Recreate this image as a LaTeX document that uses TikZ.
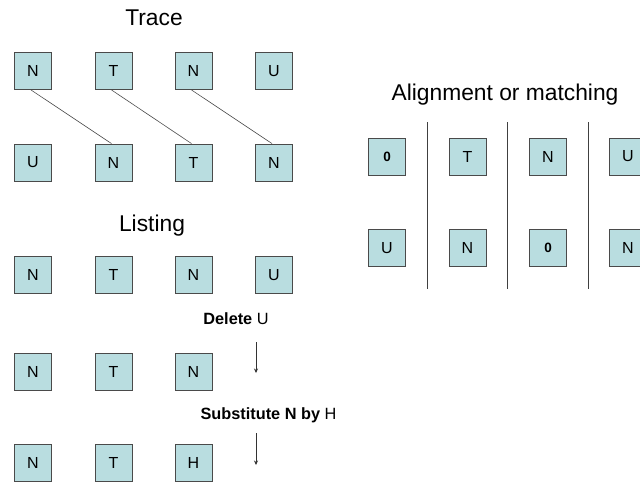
\documentclass[tikz,border=0pt]{standalone}
\usepackage{fontspec}
\setmainfont{Liberation Sans}
\usetikzlibrary{arrows.meta}
\definecolor{boxfill}{HTML}{B9DDE0}
\definecolor{boxline}{HTML}{4A4A4A}
\begin{document}
\begin{tikzpicture}[x=1pt,y=-1pt,
  cell/.style={draw=boxline,line width=0.9pt,fill=boxfill,minimum width=37pt,minimum height=37pt,inner sep=0pt,font=\fontsize{16}{16}\selectfont},
  zero/.style={cell,font=\fontsize{13.5}{13.5}\selectfont\bfseries},
  title/.style={font=\fontsize{22.8}{23}\selectfont,inner sep=0pt},
  oplabel/.style={font=\fontsize{16.3}{17}\selectfont,inner sep=0pt},
  link/.style={draw=black!70,line width=0.6pt},
  sep/.style={draw=black!75,line width=0.7pt},
  step arrow/.style={draw=black!80,line width=0.6pt,-{Stealth[length=4.5pt,width=4pt]}}]
\useasboundingbox (0,0) rectangle (640,483);
\fill[white] (0,0) rectangle (640,483);
% Trace
\node[title] (ttrace) at (154,18) {Trace};
\node[cell] (a1) at (33,71) {N};
\node[cell] (a2) at (113.5,71) {T};
\node[cell] (a3) at (193.5,71) {N};
\node[cell] (a4) at (274,71) {U};
\node[cell] (b1) at (33,162.5) {U};
\node[cell] (b2) at (113.5,162.5) {N};
\node[cell] (b3) at (193.5,162.5) {T};
\node[cell] (b4) at (274,162.5) {N};
\draw[link] ([xshift=-2pt]a1.south) -- ([xshift=-2pt]b2.north);
\draw[link] ([xshift=-2pt]a2.south) -- ([xshift=-2pt]b3.north);
\draw[link] ([xshift=-2pt]a3.south) -- ([xshift=-2pt]b4.north);
% Listing
\node[title] (tlist) at (152,226) {Listing};
\node[cell] (c1) at (33,275) {N};
\node[cell] (c2) at (113.5,275) {T};
\node[cell] (c3) at (193.5,275) {N};
\node[cell] (c4) at (274,275) {U};
\node[oplabel] (del) at (236,318.5) {\textbf{Delete} U};
\coordinate (d1s) at (256,342);
\coordinate (d1e) at (256,373);
\draw[step arrow] (d1s) -- (d1e);
\node[cell] (e1) at (33,372) {N};
\node[cell] (e2) at (113.5,372) {T};
\node[cell] (e3) at (193.5,372) {N};
\node[oplabel] (sub) at (268.5,415.5) {\textbf{Substitute N by} H};
\coordinate (d2s) at (256,433);
\coordinate (d2e) at (256,465);
\draw[step arrow] (d2s) -- (d2e);
\node[cell] (f1) at (33,463) {N};
\node[cell] (f2) at (113.5,463) {T};
\node[cell] (f3) at (193.5,463) {H};
% Alignment
\node[title] (talign) at (505,95) {Alignment or matching};
\node[zero] (g1) at (387,156.5) {0};
\node[cell] (g2) at (467.5,156.5) {T};
\node[cell] (g3) at (548,156.5) {N};
\node[cell] (g4) at (628,156.5) {U};
\node[cell] (h1) at (387,248) {U};
\node[cell] (h2) at (467.5,248) {N};
\node[zero] (h3) at (548,248) {0};
\node[cell] (h4) at (628,248) {N};
\coordinate (s1t) at (427,122); \coordinate (s1b) at (427,289);
\coordinate (s2t) at (507,122); \coordinate (s2b) at (507,289);
\coordinate (s3t) at (588,122); \coordinate (s3b) at (588,289);
\draw[sep] (s1t) -- (s1b);
\draw[sep] (s2t) -- (s2b);
\draw[sep] (s3t) -- (s3b);
\end{tikzpicture}
\end{document}
